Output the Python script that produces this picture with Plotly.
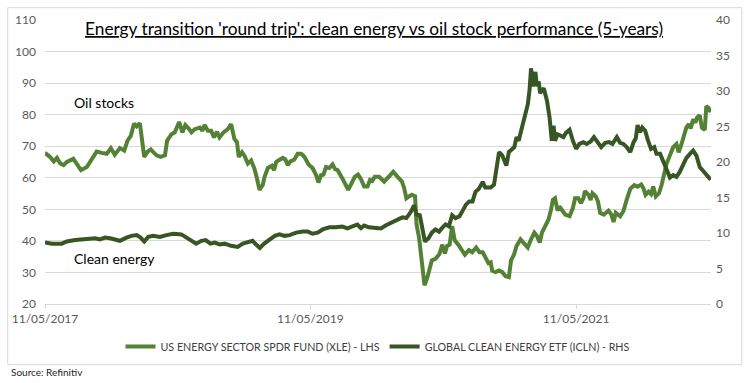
import pandas as pd
import plotly.graph_objects as go

START = pd.Timestamp("2017-05-11")

# US ENERGY SECTOR SPDR FUND (XLE) - LHS  (days since 11/05/2017, price)
oil_days = [0, 14, 24, 33, 42, 51, 60, 69, 78, 87, 99, 115, 128, 142, 156, 170, 181, 192, 206, 218,
            227, 236, 245, 252, 261, 273, 282, 291, 298, 307, 318, 330, 336, 348, 357, 369, 378, 386, 393, 403,
            412, 426, 433, 439, 448, 457, 465, 473, 480, 491, 503, 512, 521, 528, 533, 542, 549, 558, 567, 576,
            582, 590, 599, 604, 613, 624, 630, 636, 642, 648, 654, 661, 668, 675, 686, 695, 705, 714, 725, 736,
            746, 752, 759, 766, 773, 782, 791, 798, 805, 818, 834, 843, 852, 861, 869, 878, 887, 894, 900, 907,
            919, 933, 947, 958, 970, 982, 988, 994, 1001, 1009, 1018, 1022, 1029, 1036, 1044, 1052, 1064, 1074, 1085, 1093,
            1100, 1106, 1113, 1120, 1127, 1137, 1146, 1155, 1166, 1175, 1186, 1195, 1204, 1211, 1220, 1226, 1230, 1239, 1249, 1258,
            1267, 1276, 1282, 1290, 1297, 1308, 1317, 1328, 1337, 1346, 1353, 1361, 1367, 1376, 1385, 1392, 1397, 1403, 1410, 1415,
            1422, 1431, 1443, 1452, 1458, 1467, 1474, 1481, 1485, 1495, 1501, 1506, 1515, 1521, 1527, 1537, 1550, 1558, 1564, 1570,
            1582, 1591, 1600, 1610, 1621, 1630, 1640, 1646, 1652, 1660, 1667, 1673, 1680, 1689, 1696, 1703, 1710, 1719, 1728, 1737,
            1743, 1751, 1758, 1764, 1771, 1776, 1783, 1789, 1794, 1801, 1807, 1815, 1819, 1825, 1831]
oil_values = [67.9, 66.6, 65.2, 66.3, 64.5, 64.0, 65.0, 65.5, 66.0, 64.5, 62.4, 63.4, 65.5, 68.3, 67.9, 67.6, 69.4, 67.3, 69.4, 68.6,
              71.8, 73.3, 77.2, 76.3, 77.3, 66.6, 68.3, 69.0, 68.1, 67.1, 66.6, 67.1, 71.8, 73.8, 74.4, 77.7, 74.4, 76.7, 75.9, 74.4,
              75.4, 75.9, 74.9, 76.7, 74.9, 74.9, 72.8, 74.6, 72.8, 74.4, 75.4, 77.0, 72.3, 71.3, 66.6, 68.1, 66.9, 64.5, 65.5, 62.9,
              60.3, 56.2, 57.7, 60.3, 63.1, 63.8, 62.4, 65.0, 65.5, 66.0, 66.3, 65.8, 64.0, 65.2, 65.8, 67.6, 67.6, 66.6, 64.2, 63.1,
              60.8, 58.5, 60.8, 61.0, 63.4, 63.1, 64.2, 62.7, 62.4, 59.8, 56.2, 58.2, 60.3, 61.0, 59.6, 57.2, 57.2, 59.3, 59.0, 60.3,
              60.3, 58.8, 60.3, 61.9, 60.3, 58.8, 56.7, 53.5, 54.1, 54.6, 54.1, 45.2, 41.0, 34.8, 25.9, 28.5, 33.8, 34.3, 35.8, 38.8,
              36.0, 38.4, 38.8, 44.7, 40.2, 38.8, 36.9, 35.6, 37.1, 36.4, 37.9, 36.4, 36.4, 34.8, 32.9, 33.2, 30.6, 30.1, 30.6, 30.1,
              28.8, 28.5, 33.8, 35.6, 38.4, 40.5, 39.5, 37.9, 40.5, 42.6, 41.6, 39.5, 42.6, 44.7, 46.8, 49.9, 53.0, 53.5, 49.6, 50.9,
              49.9, 48.3, 47.8, 50.4, 53.5, 53.5, 52.0, 53.5, 55.8, 54.6, 53.0, 55.1, 54.1, 52.5, 48.9, 48.3, 49.6, 48.3, 46.0, 48.9,
              47.8, 49.4, 53.0, 56.5, 57.7, 57.2, 57.9, 56.7, 54.6, 55.6, 54.8, 57.2, 54.1, 55.1, 57.7, 61.9, 64.5, 67.1, 69.7, 70.7,
              68.1, 70.7, 73.8, 75.9, 77.0, 75.6, 78.5, 77.5, 79.1, 79.8, 75.9, 75.2, 82.7, 82.2, 80.8]

# GLOBAL CLEAN ENERGY ETF (ICLN) - RHS  (days since 11/05/2017, price)
clean_days = [0, 19, 46, 60, 83, 106, 124, 138, 151, 165, 179, 192, 206, 224, 238, 252, 263, 273, 284, 298,
              316, 334, 353, 375, 389, 403, 416, 430, 442, 455, 467, 480, 494, 512, 530, 544, 558, 571, 580, 591,
              603, 618, 632, 645, 659, 673, 691, 709, 723, 736, 750, 764, 782, 800, 818, 832, 846, 859, 869, 878,
              891, 905, 924, 938, 951, 965, 976, 983, 994, 1006, 1015, 1022, 1031, 1038, 1045, 1055, 1064, 1074, 1084, 1093,
              1102, 1111, 1120, 1129, 1140, 1149, 1158, 1167, 1176, 1184, 1193, 1204, 1211, 1215, 1226, 1235, 1242, 1249, 1258, 1269,
              1276, 1285, 1291, 1297, 1303, 1312, 1321, 1328, 1333, 1337, 1342, 1349, 1353, 1358, 1362, 1372, 1381, 1388, 1394, 1399,
              1403, 1410, 1419, 1426, 1433, 1443, 1452, 1461, 1470, 1481, 1490, 1501, 1510, 1519, 1530, 1541, 1552, 1561, 1573, 1582,
              1591, 1600, 1610, 1619, 1625, 1630, 1637, 1643, 1651, 1658, 1667, 1676, 1682, 1692, 1701, 1710, 1719, 1728, 1737, 1746,
              1755, 1764, 1774, 1783, 1792, 1801, 1813, 1822, 1831]
clean_values = [8.65, 8.5, 8.5, 8.8, 9.0, 9.1, 9.1, 9.25, 9.1, 9.35, 9.25, 9.1, 8.9, 9.35, 9.6, 9.7, 9.35, 8.8, 9.45, 9.6,
                9.45, 9.7, 9.9, 9.8, 9.35, 8.9, 8.5, 8.9, 9.0, 8.5, 8.65, 8.4, 8.5, 8.2, 8.05, 8.5, 8.65, 8.9, 8.4, 7.9,
                8.5, 9.1, 9.6, 9.8, 9.6, 9.7, 10.05, 10.2, 10.2, 9.9, 10.05, 10.5, 10.8, 10.8, 10.9, 10.65, 10.95, 11.2, 10.7, 11.05,
                10.8, 10.7, 10.65, 11.1, 11.4, 11.75, 11.9, 12.2, 12.1, 12.95, 13.9, 12.6, 12.5, 10.5, 8.8, 9.25, 10.05, 10.5, 10.2, 10.75,
                11.2, 10.95, 12.5, 12.1, 12.35, 13.15, 14.0, 14.45, 14.45, 15.8, 16.2, 17.2, 16.4, 16.4, 16.4, 16.8, 19.3, 21.4, 20.9, 19.5,
                21.4, 21.85, 22.1, 23.5, 23.0, 24.85, 26.7, 28.1, 30.2, 33.2, 30.65, 32.7, 30.65, 31.35, 29.7, 30.4, 28.6, 26.25, 23.0, 25.1,
                23.0, 23.9, 23.7, 23.5, 24.1, 24.55, 23.0, 21.85, 22.55, 22.8, 22.55, 22.9, 23.5, 22.9, 22.1, 22.7, 22.8, 22.55, 23.5, 22.7,
                22.55, 22.1, 21.4, 22.8, 23.3, 25.2, 24.2, 24.85, 24.4, 23.15, 21.85, 22.1, 21.15, 21.15, 20.0, 18.85, 17.8, 18.15, 17.9, 18.6,
                19.55, 20.55, 21.15, 21.6, 20.9, 19.3, 18.6, 18.05, 17.5]

tick_dates = ["2017-05-11", "2019-05-11", "2021-05-11"]
tick_labels = ["11/05/2017", "11/05/2019", "11/05/2021"]

oil_x = START + pd.to_timedelta(oil_days, unit="D")
clean_x = START + pd.to_timedelta(clean_days, unit="D")

FONT = "Lato"
fig = go.Figure()
fig.add_trace(go.Scatter(x=oil_x, y=oil_values, mode="lines", name="US ENERGY SECTOR SPDR FUND (XLE) - LHS",
                         line=dict(color="#548235", width=4), yaxis="y"))
fig.add_trace(go.Scatter(x=clean_x, y=clean_values, mode="lines", name="GLOBAL CLEAN ENERGY ETF (ICLN) - RHS",
                         line=dict(color="#375623", width=4), yaxis="y2"))

L, R, T, B = 41, 36, 16, 79
W, H = 747, 383
pw, ph = W - L - R, H - T - B

def px(x):
    return (x - L) / pw

def py(y):
    return (H - B - y) / ph

fig.update_layout(
    width=W, height=H,
    margin=dict(l=L, r=R, t=T, b=B),
    paper_bgcolor="white", plot_bgcolor="white",
    font=dict(family=FONT, color="#595959", size=12),
    showlegend=True,
    legend=dict(orientation="h", x=0.5, xanchor="center", y=py(347), yanchor="middle",
                font=dict(size=10.7, color="#404040", family=FONT), itemwidth=30,
                bgcolor="rgba(0,0,0,0)"),
    xaxis=dict(type="date", range=["2017-05-11", "2022-05-17"], tickvals=tick_dates, ticktext=tick_labels,
               showgrid=False, showline=True, linecolor="#D9D9D9", linewidth=1,
               ticks="outside", ticklen=4, tickcolor="#D9D9D9", tickfont=dict(size=12, color="#595959"),
               zeroline=False),
    yaxis=dict(range=[20, 110], dtick=10, tick0=20, showgrid=True, gridcolor="#D9D9D9", gridwidth=1,
               zeroline=False, showline=False, ticks="", ticklabelstandoff=8,
               tickfont=dict(size=12, color="#595959")),
    yaxis2=dict(range=[0, 40], dtick=5, tick0=0, overlaying="y", side="right", showgrid=False,
                zeroline=False, showline=False, ticks="", ticklabelstandoff=4,
                tickfont=dict(size=12, color="#595959")),
)

fig.add_shape(type="rect", xref="paper", yref="paper", x0=px(3.5), x1=px(742), y0=py(365.5), y1=py(3.5),
              line=dict(color="#D9D9D9", width=1), layer="below")

fig.add_annotation(text="<u>Energy transition 'round trip': clean energy vs oil stock performance (5-years)</u>",
                   xref="paper", yref="paper", x=px(372), y=py(25), showarrow=False,
                   font=dict(size=17.3, color="#000000", family=FONT), xanchor="center", yanchor="middle")
fig.add_annotation(text="Oil stocks", xref="paper", yref="paper", x=px(68), y=py(100), showarrow=False,
                   font=dict(size=14, color="#000000", family=FONT), xanchor="left", yanchor="middle")
fig.add_annotation(text="Clean energy", xref="paper", yref="paper", x=px(68), y=py(258), showarrow=False,
                   font=dict(size=14, color="#000000", family=FONT), xanchor="left", yanchor="middle")
fig.add_annotation(text="Source: Refinitiv", xref="paper", yref="paper", x=px(5), y=py(373), showarrow=False,
                   font=dict(size=10, color="#262626", family=FONT), xanchor="left", yanchor="middle")

fig.write_html("out.html", config={"displayModeBar": False},
               post_script="document.body.style.margin='0px';document.body.style.padding='0px';")
